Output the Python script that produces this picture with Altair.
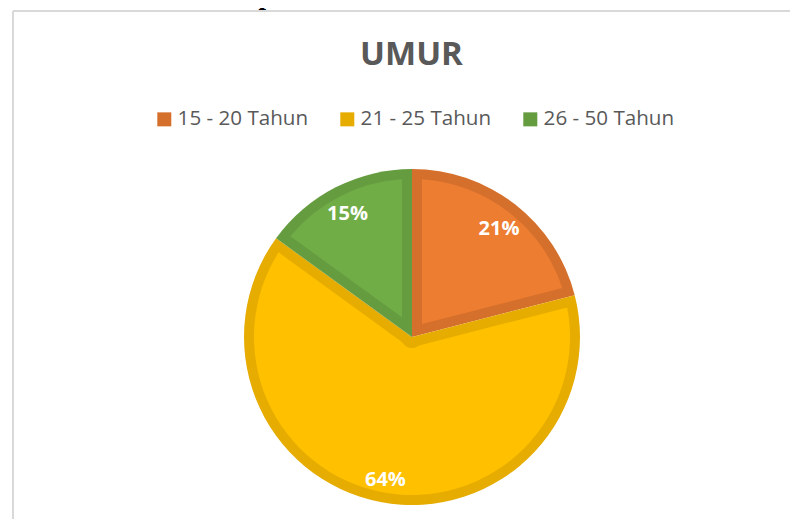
import math
import altair as alt
import pandas as pd

# ---- data ----
categories = ["15 - 20 Tahun", "21 - 25 Tahun", "26 - 50 Tahun"]
percent = [21, 64, 15]
slice_order = [0, 1, 2]
chart_title = ["UMUR"]
caption = ["Gambar 4.1 Data Responden Berdasarkan Umur"]

# ---- styles ----
fill_colors = ["#ED7D31", "#FFC000", "#70AD47"]
edge_colors = ["#D5702C", "#E6AC00", "#659C40"]
text_grey = "#595959"
frame_grey = "#D9D9D9"

W, H = 782, 511
CX, CY = 404, 329
R_OUT = 168
BORDER = 10
R_IN = R_OUT - BORDER
PAD = 2 * math.asin(BORDER / (R_IN + 1))
TOTAL = sum(percent)

df = pd.DataFrame({"kategori": categories, "persen": percent, "urut": slice_order})

base = alt.Chart(df).encode(
    theta=alt.Theta("persen:Q", stack=True),
    order=alt.Order("urut:Q"),
    x=alt.value(CX),
    y=alt.value(CY),
)

dark = base.mark_arc(radius=R_OUT).encode(
    color=alt.Color(
        "kategori:N",
        scale=alt.Scale(domain=categories, range=edge_colors),
        legend=alt.Legend(
            orient="none",
            legendX=146,
            legendY=101,
            direction="horizontal",
            title=None,
            symbolType="square",
            symbolSize=196,
            symbolStrokeWidth=0,
            labelFont="Open Sans",
            labelFontSize=20.6,
            labelColor=text_grey,
            labelOffset=3,
            columnPadding=28,
            padding=0,
            offset=0,
        ),
    )
)

light = (
    base.transform_calculate(
        r0=f"{BORDER} / sin(PI * datum.persen / {TOTAL})",
        r1=f"{R_IN}",
    )
    .mark_arc(padAngle=PAD)
    .encode(
        radius=alt.Radius("r1:Q", scale=None),
        radius2=alt.Radius2("r0:Q"),
        color=alt.Color(
            "kategori:N",
            scale=alt.Scale(domain=categories, range=fill_colors),
            legend=None,
        ),
    )
)

labels = (
    base.transform_calculate(lbl="datum.persen + '%'")
    .mark_text(
        radius=142,
        dy=4,
        font="Open Sans",
        fontSize=20,
        fontWeight="bold",
        color="white",
        align="center",
        baseline="middle",
    )
    .encode(text="lbl:N")
)

title = (
    alt.Chart(pd.DataFrame({"t": chart_title}))
    .mark_text(
        font="Open Sans",
        fontSize=33,
        fontWeight="bold",
        color=text_grey,
        align="center",
        baseline="alphabetic",
    )
    .encode(x=alt.value(403.5), y=alt.value(57), text="t:N")
)

cap = (
    alt.Chart(pd.DataFrame({"t": caption}))
    .mark_text(
        font="Liberation Serif",
        fontSize=27,
        fontWeight="bold",
        color="black",
        align="left",
        baseline="alphabetic",
    )
    .encode(x=alt.value(2), y=alt.value(-4), text="t:N")
)

frame_v = (
    alt.Chart(pd.DataFrame({"a": [0]}))
    .mark_rule(color=frame_grey, strokeWidth=2)
    .encode(x=alt.value(5), y=alt.value(3), y2=alt.value(H))
)
frame_h = (
    alt.Chart(pd.DataFrame({"a": [0]}))
    .mark_rule(color=frame_grey, strokeWidth=2)
    .encode(x=alt.value(5), x2=alt.value(W), y=alt.value(3))
)

chart = (
    alt.layer(frame_v, frame_h, cap, dark, light, labels, title)
    .resolve_scale(color="independent")
    .properties(width=W, height=H, padding=0, autosize=alt.AutoSizeParams(type="none"),
                background="white")
    .configure_view(stroke=None)
)

chart.save("out.html", embed_options={"renderer": "svg", "actions": False})
